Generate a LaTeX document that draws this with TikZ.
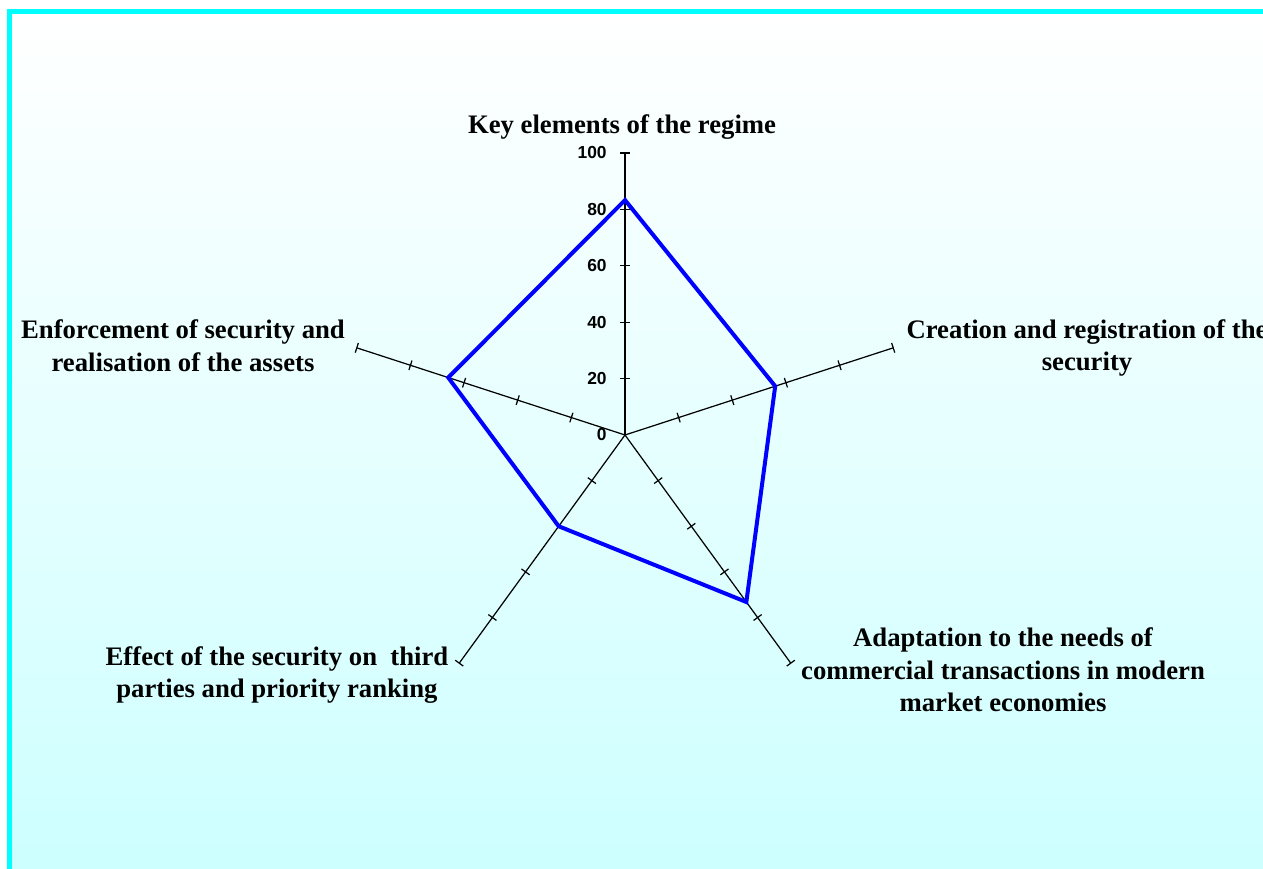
\documentclass[tikz,border=0pt]{standalone}
\usepackage{fontspec}
\setmainfont{Liberation Serif}
\newfontfamily\numfont{Liberation Sans}
\usetikzlibrary{calc}
\definecolor{paleaqua}{HTML}{CCFFFF}
\definecolor{framecyan}{HTML}{00FFFF}
\definecolor{serieblue}{HTML}{0000FF}
\tikzset{
  axisline/.style={black, line width=0.7pt},
  tickmark/.style={black, line width=0.7pt},
  series/.style={serieblue, line width=0.08cm, line join=miter},
  catlabel/.style={font=\bfseries\fontsize{15.2}{18.6}\selectfont, align=center, inner sep=0pt},
  scalelabel/.style={font=\numfont\bfseries\fontsize{9.9}{11}\selectfont, anchor=east, inner sep=0pt}
}
\begin{document}
\begin{tikzpicture}[x=0.02cm, y=0.02cm]
  \useasboundingbox (0,0) rectangle (1263,868);
  \clip (0,0) rectangle (1263,868);
  % chart area with vertical gradient
  \shade[top color=white, bottom color=paleaqua] (12,-20) rectangle (1290,854);
  % frame
  \draw[framecyan, line width=0.1cm] (9.5,-20) -- (9.5,856) -- (1290,856);

  % radar geometry
  \coordinate (O) at (625,433);
  \def\R{282}
  \foreach \ang/\nm in {90/A1, 18/A2, -54/A3, -126/A4, 162/A5}{
    \coordinate (\nm) at ($(O)+(\ang:\R)$);
  }
  \foreach \nm in {A1,A2,A3,A4,A5}{
    \draw[axisline] (O) -- (\nm);
  }
  % tick marks, 20 units apart
  \foreach \ang in {90,18,-54,-126,162}{
    \foreach \k in {1,...,5}{
      \draw[tickmark] ($(O)+(\ang:\k*56.4)+(\ang+90:5)$) -- ($(O)+(\ang:\k*56.4)+(\ang-90:5)$);
    }
  }
  % scale values
  \foreach \k/\v in {0/0,1/20,2/40,3/60,4/80,5/100}{
    \node[scalelabel] (s\k) at (607,433+\k*56.4) {\v};
  }

  % data series
  \coordinate (P1) at ($(O)+(90:83.3*2.82)$);
  \coordinate (P2) at ($(O)+(18:56*2.82)$);
  \coordinate (P3) at ($(O)+(-54:73.2*2.82)$);
  \coordinate (P4) at ($(O)+(-126:40*2.82)$);
  \coordinate (P5) at ($(O)+(162:65.9*2.82)$);
  \draw[series] (P1) -- (P2) -- (P3) -- (P4) -- (P5) -- cycle;

  % category labels
  \node[catlabel] (c1) at (622,741) {Key elements of the regime};
  \node[catlabel] (c2) at (1087,520) {Creation and registration of the\\security};
  \node[catlabel] (c3) at (1003,198) {Adaptation to the needs of\\commercial transactions in modern\\market economies};
  \node[catlabel] (c4) at (277,193) {Effect of the security on\ \ third\\parties and priority ranking};
  \node[catlabel] (c5) at (183,522) {Enforcement of security and\\realisation of the assets};
\end{tikzpicture}
\end{document}
